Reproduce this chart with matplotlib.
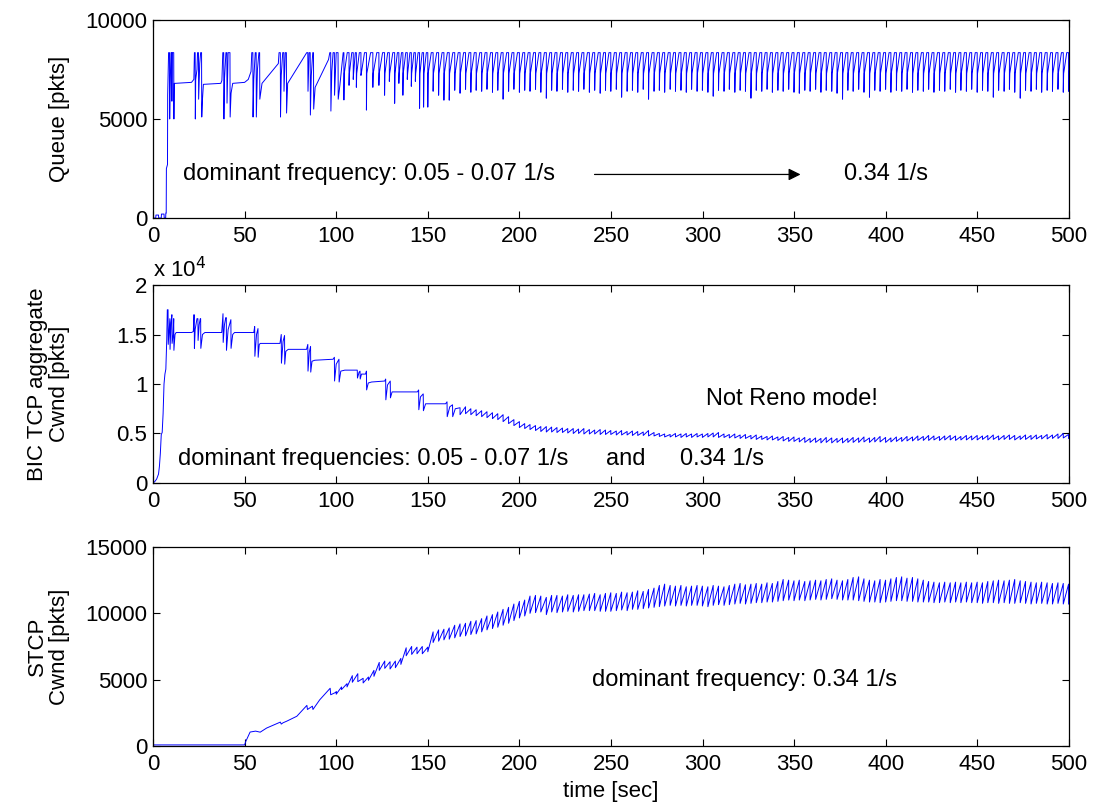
import numpy as np
import matplotlib
matplotlib.use("Agg")
import matplotlib.pyplot as plt
from matplotlib.ticker import FuncFormatter

plt.rcParams['font.family'] = ['Liberation Sans', 'DejaVu Sans']

# ---------------- data ----------------
# common 0.34 1/s oscillation instants (s)
osc_t = [100.0, 102.9, 105.9, 108.8, 111.8, 114.7, 117.6, 120.6, 123.5, 126.5,
         129.4, 132.3, 135.3, 138.2, 141.2, 144.1, 147.0, 150.0, 152.9, 155.9,
         158.8, 161.7, 164.7, 167.6, 170.6, 173.5, 176.4, 179.4, 182.3, 185.3,
         188.2, 191.1, 194.1, 197.0, 200.0, 202.9, 205.8, 208.8, 211.7, 214.7,
         217.6, 220.5, 223.5, 226.4, 229.4, 232.3, 235.2, 238.2, 241.1, 244.1,
         247.0, 249.9, 252.9, 255.8, 258.8, 261.7, 264.6, 267.6, 270.5, 273.5,
         276.4, 279.3, 282.3, 285.2, 288.2, 291.1, 294.0, 297.0, 299.9, 302.9,
         305.8, 308.7, 311.7, 314.6, 317.6, 320.5, 323.4, 326.4, 329.3, 332.3,
         335.2, 338.1, 341.1, 344.0, 347.0, 349.9, 352.8, 355.8, 358.7, 361.7,
         364.6, 367.5, 370.5, 373.4, 376.4, 379.3, 382.2, 385.2, 388.1, 391.1,
         394.0, 396.9, 399.9, 402.8, 405.8, 408.7, 411.6, 414.6, 417.5, 420.5,
         423.4, 426.3, 429.3, 432.2, 435.2, 438.1, 441.0, 444.0, 446.9, 449.9,
         452.8, 455.7, 458.7, 461.6, 464.6, 467.5, 470.4, 473.4, 476.3, 479.3,
         482.2, 485.1, 488.1, 491.0, 494.0, 496.9, 499.8]

# --- Queue [pkts] ---
queue_early_t = [0, 1.5, 1.6, 3.0, 3.1, 4.5, 4.6, 6.0, 6.1, 6.9, 7.0, 7.2, 7.3, 7.9, 8.0,
                 8.5, 9.0, 9.1, 9.3, 9.8, 10.2, 10.3, 10.5, 11.3, 11.4, 11.6, 12.0, 21.0,
                 22.3, 22.6, 23.0, 23.1, 23.3, 24.0, 24.3, 24.8, 24.9, 25.5, 26.0, 26.5,
                 26.6, 27.0, 27.5, 37.0, 37.6, 38.1, 38.6, 38.7, 39.0, 39.8, 40.3, 40.4,
                 41.0, 42.0, 42.1, 42.6, 43.5, 50.0, 52.0, 53.5, 53.9, 54.5, 54.6, 55.0,
                 55.8, 56.3, 56.4, 57.0, 57.8, 58.2, 58.3, 59.5, 68.4, 68.8, 69.5, 69.6,
                 70.0, 70.8, 71.4, 71.5, 72.2, 72.8, 72.9, 73.5, 83.9, 84.5, 84.6, 85.2,
                 85.8, 85.9, 86.4, 87.2, 87.6, 87.7, 88.5, 95.8, 96.5, 97.0, 97.1, 97.6,
                 98.3, 99.0, 99.1, 100.0, 101.0, 101.1, 102.0, 103.8]
queue_early_v = [0, 0, 150, 150, 0, 0, 200, 200, 0, 0, 250, 250, 2500, 2700, 6200,
                 8350, 8350, 5000, 6500, 8350, 8350, 5900, 8350, 8350, 5000, 6800, 6800, 6850,
                 7000, 8350, 8350, 5000, 7000, 7500, 8350, 8350, 6000, 7800, 8350, 8350,
                 5100, 6000, 6750, 6800, 6950, 8350, 8350, 5000, 7000, 8350, 8350, 5800,
                 8350, 8350, 5100, 6300, 6800, 6850, 7000, 7400, 8350, 8350, 5100, 7000,
                 8350, 8350, 5100, 7500, 8350, 8350, 6000, 6800, 7800, 8350, 8350, 5100,
                 7200, 8350, 8350, 6400, 8350, 8350, 5300, 6800, 8350, 8350, 6400, 8350,
                 8350, 5200, 7200, 8350, 8350, 5500, 6600, 8000, 8350, 8350, 5400, 7400,
                 8350, 8350, 6200, 8350, 8350, 6000, 6700, 8350]
queue_irr_t = [104.2, 107.0, 109.3, 111.0, 113.5, 116.5, 120.0, 123.3, 126.4, 129.0,
               131.9, 134.2, 136.4, 138.8, 141.0, 143.2, 145.5, 147.7]
queue_irr_lo = [5960, 6700, 7000, 6600, 7200, 5450, 6600, 6700, 6200, 6900,
                5790, 6800, 6200, 7000, 6650, 6900, 5540, 5600]
queue_peak = 8350
queue_mid = 7300
# troughs of the regular cycles, osc_t[17:] (150 s ... 500 s)
queue_lo = [5600, 6400, 6200, 5950, 5950, 6450, 6300, 6500, 6350, 6450,
            6400, 6500, 6350, 6450, 6000, 6400, 6500, 6350, 6450, 6400,
            6500, 6350, 6050, 6450, 6400, 6500, 6350, 6450, 6400, 6500,
            6350, 6450, 6300, 6450, 6400, 6500, 6100, 6400, 6450, 6350,
            6500, 6000, 6400, 6450, 6350, 6500, 6400, 6450, 6350, 6500,
            6400, 6450, 6350, 6150, 6450, 6400, 6500, 6350, 6450, 6400,
            6050, 6450, 6400, 6500, 6350, 6450, 6400, 6500, 6350, 6300,
            6450, 6400, 6500, 6350, 6450, 6400, 6300, 6000, 6450, 6400,
            6500, 6350, 6100, 6450, 6400, 6500, 6350, 6450, 6400, 6500,
            6350, 6450, 6400, 6500, 6350, 6450, 6400, 6500, 6350, 6450,
            6400, 6500, 6350, 6450, 6400, 6100, 6450, 6400, 6500, 6350,
            6050, 6450, 6400, 6500, 6350, 6450, 6400, 6500, 6350, 6400]

# --- BIC TCP aggregate Cwnd [pkts] ---
bic_early_t = [0, 1, 2, 3, 3.5, 4, 4.5, 5, 5.5, 6, 6.5, 7, 7.5, 7.8, 8.2, 8.3, 8.8, 9.2,
               9.3, 9.8, 10.3, 10.4, 11.0, 11.3, 11.4, 12.0, 12.6, 21.0, 22.0, 22.3, 22.5,
               22.6, 23.0, 24.0, 24.5, 24.6, 25.2, 25.8, 26.0, 26.1, 27.0, 28.3, 37.5,
               38.2, 38.3, 39.0, 39.7, 40.0, 40.1, 41.0, 42.5, 42.6, 43.5, 44.5, 55.0,
               55.5, 55.6, 56.5, 57.3, 57.4, 58.0, 58.6, 60.5, 69.3, 70.0, 70.1, 71.0,
               71.8, 71.9, 72.5, 73.8, 83.8, 84.5, 84.6, 85.3, 86.0, 86.1, 86.8, 88.3,
               98.3, 99.0, 99.1, 100.0, 101.5, 101.6, 102.5, 104.7, 111.0, 111.5, 111.6,
               112.5, 113.0, 113.1, 113.8, 116.0, 116.5, 116.6, 117.5, 119.3, 126.5,
               127.0, 127.1, 128.0, 129.5, 129.6, 130.5, 131.0, 133.0, 144.3, 145.0,
               145.1, 146.0, 147.5, 147.6, 148.8, 149.7, 159.7, 160.5, 160.6, 162.0,
               163.5, 163.6, 165.0]
bic_early_v = [0, 150, 400, 900, 1700, 3000, 4900, 5100, 7000, 10000, 11000, 11500,
               14500, 17500, 17500, 14000, 15500, 16600, 13500, 16200, 17000, 14100,
               15000, 16600, 13400, 15000, 15200, 15200, 15300, 17000, 17000, 13600,
               15500, 16600, 16600, 14400, 16000, 16600, 16600, 13600, 15000, 15200,
               15200, 17100, 14200, 16000, 16700, 16700, 13400, 15500, 16500, 13600,
               15000, 15200, 15200, 15800, 12800, 15000, 15600, 12700, 14000, 14100,
               14100, 14100, 15000, 12100, 14300, 14900, 12000, 13300, 13500, 13500,
               14000, 11300, 13200, 13800, 11200, 12300, 12400, 12500, 12700, 10300,
               12000, 12500, 10200, 11300, 11400, 11400, 11400, 10600, 11200, 11300,
               10500, 11000, 11000, 11300, 9400, 10100, 10200, 10300, 10500, 8400,
               9900, 10300, 8600, 9200, 9200, 9200, 9200, 9400, 7400, 8700, 9000, 7300,
               8000, 8000, 8000, 8200, 6700, 7700, 7900, 6700, 7500]
# cycles at osc_t[23:] (167.6 s ... 500 s)
bic_hi = [7600, 7700, 7500, 7400, 7300, 7200, 7100, 7000, 6900, 6700,
          6400, 6200, 6000, 5900, 5800, 5700, 5700, 5650, 5600, 5550,
          5500, 5500, 5450, 5500, 5400, 5350, 5400, 5350, 5300, 5250,
          5300, 5200, 5250, 5200, 5150, 5300, 5100, 5000, 4950, 4900,
          5000, 4950, 5000, 4950, 5000, 4950, 5000, 5050, 5100, 4950,
          4900, 4950, 4850, 4900, 4800, 4850, 4750, 4700, 4750, 4650,
          4700, 4600, 4650, 4550, 4600, 4500, 4550, 4500, 4600, 4550,
          4500, 4550, 4500, 4600, 4550, 4650, 4550, 4600, 4700, 4600,
          4550, 4650, 4600, 4700, 4650, 4750, 4700, 4800, 4750, 4700,
          4750, 4800, 4750, 4700, 4800, 4750, 4800, 4750, 4800, 4850,
          4750, 4800, 4850, 4800, 4750, 4850, 4800, 4850, 4800, 4900,
          4850, 4950, 5000, 4900]
bic_lo = [6900, 7000, 6900, 6800, 6700, 6600, 6500, 6400, 6200, 6000,
          5800, 5600, 5500, 5400, 5300, 5200, 5150, 5150, 5100, 5100,
          5050, 5000, 5000, 4950, 4950, 4950, 4900, 4900, 4900, 4850,
          4850, 4850, 4800, 4800, 4800, 4750, 4750, 4700, 4650, 4650,
          4650, 4600, 4650, 4600, 4650, 4600, 4650, 4650, 4600, 4600,
          4550, 4550, 4500, 4500, 4450, 4400, 4400, 4350, 4350, 4300,
          4250, 4200, 4200, 4150, 4100, 4100, 4100, 4050, 4100, 4050,
          4100, 4050, 4100, 4100, 4100, 4150, 4100, 4150, 4150, 4100,
          4150, 4200, 4200, 4250, 4250, 4300, 4300, 4300, 4350, 4300,
          4350, 4350, 4300, 4350, 4350, 4350, 4350, 4400, 4350, 4400,
          4350, 4400, 4400, 4350, 4400, 4400, 4400, 4450, 4450, 4450,
          4500, 4500, 4550, 4500]

# --- STCP Cwnd [pkts] ---
stcp_early_t = [0, 50, 50.5, 53, 56, 58.5, 62, 69.5, 70, 71, 73, 78.5, 84, 84.3, 87,
                87.3, 91, 96.7, 97, 99.9]
stcp_early_v = [80, 80, 300, 1050, 1120, 1040, 1350, 1800, 1650, 1750, 1870, 2240,
                3060, 2750, 3000, 2750, 3480, 4350, 3860, 4050]
# cycles at osc_t (100 s ... 500 s)
stcp_hi = [4100, 4450, 4700, 5300, 5450, 5100, 5200, 5700, 6300, 6400,
           6350, 6400, 6600, 7400, 7500, 7450, 7500, 7450, 8600, 8750,
           8800, 8900, 9100, 9200, 9250, 9400, 9450, 9600, 9800, 9900,
           10100, 10300, 10450, 10700, 10900, 11000, 11300, 11350, 11300, 11200,
           11350, 11350, 11300, 11400, 11350, 11400, 11400, 11450, 11500, 11400,
           11500, 11550, 11500, 11600, 11550, 11600, 11700, 11650, 11800, 11900,
           12100, 12200, 12100, 12050, 12100, 12000, 12050, 12100, 12050, 12000,
           12100, 12050, 12000, 12100, 12200, 12250, 12150, 12200, 12250, 12200,
           12300, 12250, 12400, 12550, 12500, 12450, 12500, 12400, 12450, 12500,
           12450, 12550, 12600, 12500, 12450, 12550, 12700, 12750, 12600, 12500,
           12450, 12550, 12500, 12600, 12700, 12750, 12650, 12700, 12600, 12500,
           12400, 12350, 12300, 12350, 12300, 12350, 12300, 12350, 12300, 12350,
           12300, 12400, 12450, 12500, 12450, 12500, 12550, 12450, 12400, 12350,
           12300, 12350, 12300, 12250, 12300, 12250, 12200]
stcp_lo = [3900, 4250, 4450, 4800, 4850, 4750, 4950, 5250, 5700, 5850,
           5800, 5900, 6150, 6800, 6900, 6950, 6950, 7100, 7800, 7900,
           8000, 8050, 8150, 8250, 8300, 8400, 8450, 8600, 8750, 8850,
           8950, 9100, 9250, 9450, 9650, 9800, 10000, 10050, 10100, 9900,
           10100, 10050, 10100, 10150, 10100, 10150, 10200, 10200, 10200, 10150,
           10150, 10150, 10200, 10250, 10200, 10300, 10300, 10350, 10400, 10450,
           10500, 10550, 10600, 10550, 10600, 10550, 10600, 10600, 10550, 10500,
           10600, 10650, 10600, 10650, 10700, 10750, 10700, 10750, 10800, 10800,
           10850, 10850, 10900, 10950, 11000, 10950, 11000, 10950, 11000, 11050,
           11000, 11050, 11100, 11050, 11000, 11000, 11000, 10950, 10900, 10850,
           10850, 10800, 10850, 10900, 10950, 10950, 10900, 10900, 10850, 10850,
           10850, 10800, 10800, 10850, 10800, 10850, 10800, 10850, 10800, 10800,
           10750, 10800, 10800, 10750, 10800, 10750, 10750, 10800, 10750, 10700,
           10750, 10750, 10700, 10700, 10750, 10700, 10700]

x_ticks = [0, 50, 100, 150, 200, 250, 300, 350, 400, 450, 500]


# ---------------- helpers ----------------
def sawtooth(ts, hi, lo):
    xs, ys = [], []
    for t, h, l in zip(ts, hi, lo):
        xs += [t, t]
        ys += [h, l]
    return xs, ys


def queue_cycles(ts, lo, peak, mid, t_end=500.0):
    xs, ys = [], []
    for k, t in enumerate(ts):
        nxt = ts[k + 1] if k + 1 < len(ts) else t_end + 3
        xs += [t, t, t + 0.2, t + 0.65 * (nxt - t)]
        ys += [peak, lo[k], max(lo[k], mid), peak]
    return xs, ys


qx1, qy1 = queue_cycles(queue_irr_t + osc_t[17:], queue_irr_lo + queue_lo,
                        queue_peak, queue_mid)
queue_x = queue_early_t + qx1
queue_y = queue_early_v + qy1

bx1, by1 = sawtooth(osc_t[23:], bic_hi, bic_lo)
bic_x = bic_early_t + bx1
bic_y = bic_early_v + by1

sx1, sy1 = sawtooth(osc_t, stcp_hi, stcp_lo)
stcp_x = stcp_early_t + sx1
stcp_y = stcp_early_v + sy1

# ---------------- figure ----------------
FS = 16
FT = 17
fig = plt.figure(figsize=(10.93, 8.09), dpi=100)
left, width = 0.140, 0.838
ax1 = fig.add_axes([left, 0.7305, width, 0.2448])
ax2 = fig.add_axes([left, 0.403, width, 0.2447])
ax3 = fig.add_axes([left, 0.0779, width, 0.2460])

blue = (0, 0, 1)
ax1.plot(queue_x, queue_y, color=blue, lw=0.7)
ax2.plot(bic_x, bic_y, color=blue, lw=0.7)
ax3.plot(stcp_x, stcp_y, color=blue, lw=0.7)

for ax in (ax1, ax2, ax3):
    ax.set_xlim(0, 500)
    ax.set_xticks(x_ticks)
    ax.tick_params(direction='in', top=True, right=True, labelsize=FS,
                   length=5, width=0.8)
    ax.tick_params(axis='x', pad=6)
    ax.tick_params(axis='y', pad=4)
    for s in ax.spines.values():
        s.set_linewidth(0.9)

ax1.set_ylim(0, 10000)
ax1.set_yticks([0, 5000, 10000])
ax2.set_ylim(0, 20000)
ax2.set_yticks([0, 5000, 10000, 15000, 20000])
ax2.yaxis.set_major_formatter(FuncFormatter(lambda v, p: ('%g' % (v / 1e4))))
ax3.set_ylim(0, 15000)
ax3.set_yticks([0, 5000, 10000, 15000])

ax1.set_ylabel('Queue [pkts]', fontsize=FS)
ax2.set_ylabel('BIC TCP aggregate\nCwnd [pkts]', fontsize=FS, linespacing=1.05)
ax3.set_ylabel('STCP\nCwnd [pkts]', fontsize=FS, linespacing=1.05)
for ax in (ax1, ax2, ax3):
    ax.yaxis.set_label_coords(-0.0905, 0.5)
ax3.set_xlabel('time [sec]', fontsize=FS, labelpad=4)

ax2.text(0.0, 1.015, r'x 10$^{4}$', transform=ax2.transAxes, fontsize=FS,
         ha='left', va='bottom')

ax1.text(16.4, 2200, 'dominant frequency: 0.05 - 0.07 1/s', fontsize=FT, va='center')
ax1.annotate('', xy=(355, 2200), xytext=(239.5, 2200),
             arrowprops=dict(arrowstyle='-|>', color='black', lw=0.9,
                             mutation_scale=18))
ax1.text(377, 2200, '0.34 1/s', fontsize=FT, va='center')

ax2.text(301.6, 8500, 'Not Reno mode!', fontsize=FT, va='center')
ax2.text(13.6, 2450, 'dominant frequencies: 0.05 - 0.07 1/s', fontsize=FT, va='center')
ax2.text(247.5, 2450, 'and', fontsize=FT, va='center')
ax2.text(287.7, 2450, '0.34 1/s', fontsize=FT, va='center')

ax3.text(239.6, 4950, 'dominant frequency: 0.34 1/s', fontsize=FT, va='center')

fig.savefig('out.png', dpi=100)
